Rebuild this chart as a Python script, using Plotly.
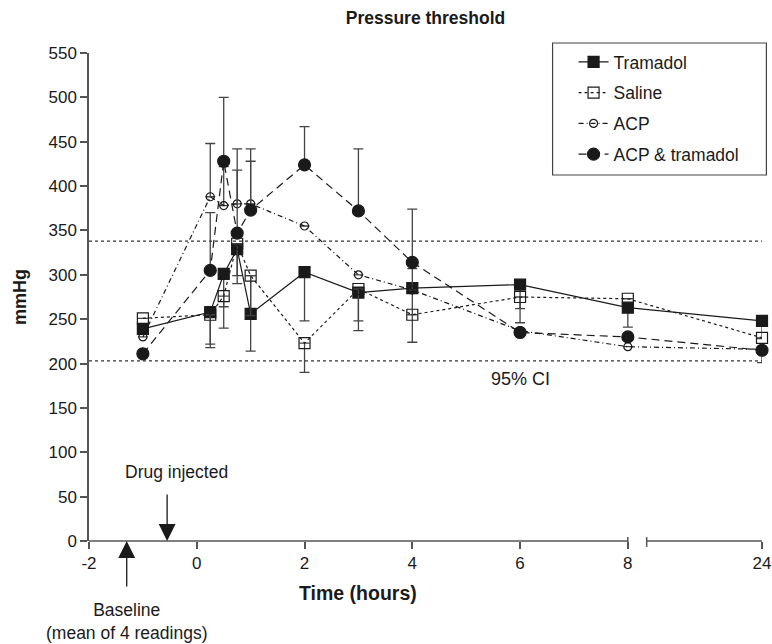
import plotly.graph_objects as go

# ---- data ----
hours = [-1, 0.25, 0.5, 0.75, 1, 2, 3, 4, 6, 8, 24]

tramadol = [239, 258, 301, 329, 256, 303, 280, 285, 289, 263, 248]
tramadol_plus = [0, 0, 0, 0, 43, 0, 0, 0, 0, 0, 0]
tramadol_minus = [0, 40, 61, 39, 42, 55, 43, 61, 43, 22, 20]

saline = [251, 255, 276, 335, 299, 223, 284, 255, 275, 273, 229]
saline_plus = [0] * 11
saline_minus = [0, 33, 12, 36, 45, 33, 36, 0, 13, 0, 0]

acp = [230, 388, 378, 380, 380, 355, 300, 283, 237, 219, 216]
acp_plus = [0, 60, 44, 62, 62, 0, 0, 24, 0, 0, 0]
acp_minus = [0] * 11

acp_tram = [211, 305, 428, 347, 373, 424, 372, 314, 235, 230, 215]
acp_tram_plus = [0, 65, 72, 71, 55, 43, 70, 60, 0, 0, 0]
acp_tram_minus = [0, 0, 0, 0, 0, 0, 0, 0, 0, 0, 14]

ci_upper = 338
ci_lower = 203

x_ticks = [-2, 0, 2, 4, 6, 8, 24]
y_ticks = list(range(0, 551, 50))

baseline_time = -1.3
injection_time = -0.55

# ---- broken time axis: 8 -> 24 compressed ----
BREAK_START = 8
COMPRESS = 2.49 / 16.0
GAP_END = 8.35


def tx(h):
    return h if h <= BREAK_START else BREAK_START + (h - BREAK_START) * COMPRESS


FONT = "Liberation Sans, Arial, Helvetica, sans-serif"
INK = "#1a1a1a"
AXC = "#555555"

fig = go.Figure()

series = [
    ("Tramadol", tramadol, tramadol_plus, tramadol_minus, "square", 11, INK, "solid"),
    ("Saline", saline, saline_plus, saline_minus, "square-open", 11, INK, "dot"),
    ("ACP", acp, acp_plus, acp_minus, "circle-open", 8, INK, "5px,3px,1px,3px"),
    ("ACP & tramadol", acp_tram, acp_tram_plus, acp_tram_minus, "circle", 12, INK, "8px,5px"),
]

for i, (name, ys, ep, em, sym, size, col, dash) in enumerate(series):
    fig.add_trace(go.Scatter(
        x=[tx(h) for h in hours], y=ys, name=name, mode="lines+markers",
        legendgroup=f"g{i}",
        line=dict(color=col, width=1.2, dash=dash),
        marker=dict(symbol=sym, size=size, color=col,
                    line=dict(color=col, width=1.2)),
        error_y=dict(type="data", symmetric=False, array=ep, arrayminus=em,
                     color="#444444", thickness=1.3, width=5),
        cliponaxis=False,
    ))

shapes = []
# CI reference lines
for v in (ci_upper, ci_lower):
    shapes.append(dict(type="line", xref="x", yref="y", x0=-2, x1=tx(24), y0=v, y1=v,
                       line=dict(color="#333333", width=1.2, dash="dot"), layer="below"))
# broken x axis line
shapes.append(dict(type="line", xref="x", yref="paper", x0=-2, x1=BREAK_START, y0=0, y1=0,
                   line=dict(color=AXC, width=1.5)))
shapes.append(dict(type="line", xref="x", yref="paper", x0=GAP_END, x1=tx(24), y0=0, y1=0,
                   line=dict(color=AXC, width=1.5)))
# break marks
for bx in (BREAK_START, GAP_END):
    shapes.append(dict(type="line", xref="x", yref="paper", x0=bx, x1=bx,
                       y0=-0.012, y1=0.008, line=dict(color=AXC, width=1.5)))
# legend box
shapes.append(dict(type="rect", xref="paper", yref="paper",
                   x0=(553 - 89) / 673.6, x1=(767 - 89) / 673.6,
                   y0=(541 - 175) / 488, y1=(541 - 43) / 488,
                   line=dict(color="#444444", width=1.2), fillcolor="rgba(0,0,0,0)"))

TXT = 17.5
annotations = [
    dict(text="95% CI", x=6, y=183, xref="x", yref="y", showarrow=False,
         font=dict(size=18, color=INK, family=FONT)),
    dict(text="<b>mmHg</b>", x=-0.1024, y=0.5, xref="paper", yref="paper", showarrow=False,
         textangle=-90, font=dict(size=18, color=INK, family=FONT),
         xanchor="center", yanchor="middle"),
    dict(text="<b>Time (hours)</b>", x=3, y=-0.107, xref="x", yref="paper", showarrow=False,
         yanchor="middle", font=dict(size=19.5, color=INK, family=FONT)),
    dict(text="Drug injected", x=injection_time + 0.17, y=0.141, xref="x", yref="paper",
         showarrow=False, yanchor="middle", font=dict(size=TXT, color=INK, family=FONT)),
    dict(text="Baseline<br>(mean of 4 readings)", x=baseline_time, y=-0.164, xref="x",
         yref="paper", showarrow=False, yanchor="middle",
         font=dict(size=TXT, color=INK, family=FONT)),
    # arrows
    dict(x=baseline_time, y=0, xref="x", yref="y", ax=0, ay=47, showarrow=True, text="",
         arrowhead=2, arrowsize=2.6, arrowwidth=1.3, arrowcolor=INK, standoff=0),
    dict(x=injection_time, y=0, xref="x", yref="y", ax=0, ay=-48, showarrow=True, text="",
         arrowhead=2, arrowsize=2.6, arrowwidth=1.3, arrowcolor=INK, standoff=0),
]

fig.update_layout(
    width=772, height=644,
    margin=dict(l=89, r=10, t=53, b=103),
    plot_bgcolor="white", paper_bgcolor="white",
    font=dict(family=FONT, size=16, color=INK),
    title=dict(text="<b>Pressure threshold</b>", x=0.5, xref="paper", y=1 - 18 / 644,
               yref="container", yanchor="middle", xanchor="center",
               font=dict(size=17.5, family=FONT, color=INK)),
    showlegend=True,
    legend=dict(x=(574 - 89) / 673.6, y=(541 - 44) / 488, xanchor="left", yanchor="top",
                bgcolor="rgba(0,0,0,0)", borderwidth=0, tracegroupgap=5,
                font=dict(size=17.5, family=FONT, color=INK)),
    shapes=shapes,
    annotations=annotations,
    xaxis=dict(range=[-2, tx(24)], tickvals=[tx(v) for v in x_ticks],
               ticktext=[str(v) for v in x_ticks], showgrid=False, zeroline=False,
               showline=False, ticks="outside", ticklen=7, tickwidth=1.5, tickcolor=AXC,
               tickfont=dict(size=17, color=INK), automargin=False),
    yaxis=dict(range=[0, 550], tickvals=y_ticks, showgrid=False, zeroline=False,
               showline=True, linecolor=AXC, linewidth=1.5, ticks="outside", ticklen=7,
               tickwidth=1.5, tickcolor=AXC, tickfont=dict(size=17, color=INK),
               automargin=False),
)

fig.write_html("out.html", post_script="document.body.style.margin='0';",
               config={"displayModeBar": False})
